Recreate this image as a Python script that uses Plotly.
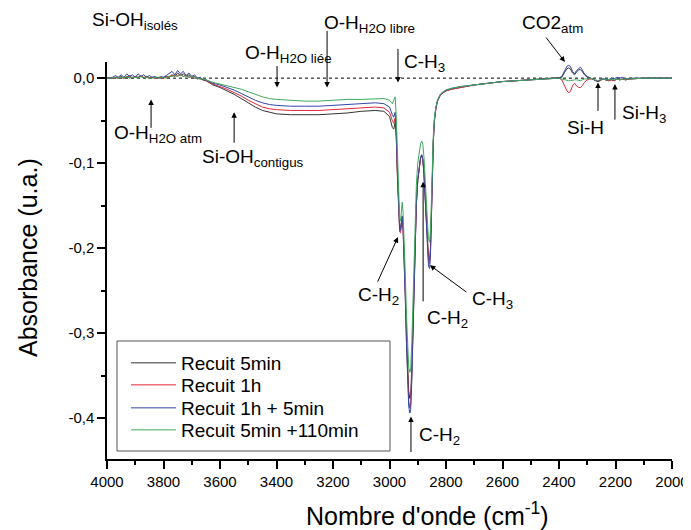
import plotly.graph_objects as go

# ---------------- data ----------------
wn_noise = [4000, 3980, 3970, 3960, 3950, 3940, 3930, 3920, 3910, 3900,
            3890, 3880, 3870, 3860, 3850, 3840, 3830, 3820, 3810, 3800,
            3790, 3780, 3770, 3760, 3750, 3740, 3730, 3720, 3710, 3700,
            3690, 3680, 3670, 3660, 3650]
k_noise = [0, 0, 0.001, 0, 0.002, 0, 0.001, 0.003, 0, 0.002,
           0.001, 0.003, 0, 0.002, 0, 0.001, 0, 0.001, 0, 0.001,
           0.002, 0.001, 0.004, 0.002, 0.006, 0.003, 0.005, 0.002, 0.004, 0.001,
           0.002, -0.001, 0.000, -0.002, -0.003]
r_noise = [0, 0, 0, 0.001, 0.001, 0, 0.002, 0.001, 0.001, 0.002,
           0, 0.002, 0.001, 0.001, 0, 0.001, 0, 0, 0.001, 0,
           0.001, 0.002, 0.003, 0.004, 0.003, 0.005, 0.002, 0.004, 0.001, 0.002,
           0.000, 0.000, -0.001, -0.002, -0.003]
b_noise = [0, 0.001, 0.003, 0.001, 0.004, 0.001, 0.005, 0.002, 0.004, 0.001,
           0.005, 0.002, 0.004, 0.001, 0.003, 0.001, 0.002, 0.000, 0.002, 0.001,
           0.003, 0.005, 0.008, 0.004, 0.009, 0.005, 0.008, 0.003, 0.006, 0.002,
           0.004, 0.000, 0.001, -0.002, -0.002]
g_noise = [0, 0, 0.001, 0, 0.001, 0, 0.002, 0, 0.001, 0.001,
           0, 0.002, 0, 0.001, 0, 0, 0.001, 0, 0, 0.001,
           0, 0.002, 0.002, 0.003, 0.002, 0.004, 0.002, 0.003, 0.001, 0.002,
           0.000, 0.000, -0.001, -0.001, -0.002]

wn_mid = [3625, 3600, 3575, 3550, 3525, 3500, 3475, 3450, 3425, 3400,
          3350, 3300, 3250, 3200, 3150, 3100, 3050, 3020, 3000, 2990,
          2985, 2980, 2976, 2972, 2968, 2964, 2961, 2958, 2955, 2952,
          2948, 2944, 2940, 2936, 2932, 2928, 2925, 2921, 2917, 2913,
          2909, 2905, 2900, 2895, 2890, 2886, 2882, 2878, 2874, 2870,
          2866, 2862, 2858, 2855, 2852, 2849, 2845, 2841, 2836, 2830,
          2820, 2810, 2800, 2780, 2750, 2700, 2650, 2600, 2550, 2500,
          2450]
k_mid = [-0.008, -0.011, -0.015, -0.019, -0.024, -0.029, -0.034, -0.038, -0.040, -0.042,
         -0.043, -0.043, -0.043, -0.042, -0.041, -0.039, -0.038, -0.039, -0.045, -0.058,
         -0.060, -0.052, -0.070, -0.115, -0.155, -0.175, -0.176, -0.168, -0.162, -0.172,
         -0.205, -0.250, -0.298, -0.340, -0.368, -0.377, -0.372, -0.340, -0.285, -0.225,
         -0.180, -0.148, -0.120, -0.103, -0.094, -0.091, -0.096, -0.112, -0.138, -0.168,
         -0.195, -0.211, -0.214, -0.200, -0.165, -0.120, -0.075, -0.050, -0.036, -0.027,
         -0.020, -0.017, -0.015, -0.013, -0.011, -0.008, -0.006, -0.004, -0.003, -0.002,
         -0.001]
r_mid = [-0.007, -0.010, -0.013, -0.017, -0.021, -0.026, -0.030, -0.034, -0.036, -0.037,
         -0.038, -0.038, -0.038, -0.037, -0.036, -0.035, -0.034, -0.035, -0.040, -0.050,
         -0.053, -0.047, -0.068, -0.115, -0.158, -0.181, -0.182, -0.174, -0.167, -0.178,
         -0.212, -0.258, -0.308, -0.350, -0.380, -0.388, -0.383, -0.350, -0.292, -0.230,
         -0.182, -0.149, -0.120, -0.103, -0.094, -0.091, -0.096, -0.113, -0.140, -0.171,
         -0.199, -0.215, -0.218, -0.203, -0.167, -0.121, -0.075, -0.050, -0.036, -0.027,
         -0.020, -0.017, -0.015, -0.013, -0.011, -0.008, -0.006, -0.004, -0.003, -0.002,
         -0.001]
b_mid = [-0.006, -0.008, -0.011, -0.014, -0.018, -0.022, -0.026, -0.029, -0.031, -0.032,
         -0.033, -0.033, -0.033, -0.032, -0.031, -0.030, -0.029, -0.030, -0.034, -0.043,
         -0.046, -0.040, -0.062, -0.110, -0.155, -0.178, -0.179, -0.170, -0.163, -0.176,
         -0.212, -0.260, -0.312, -0.357, -0.386, -0.394, -0.390, -0.355, -0.296, -0.232,
         -0.183, -0.149, -0.120, -0.102, -0.093, -0.090, -0.095, -0.113, -0.141, -0.174,
         -0.204, -0.221, -0.224, -0.208, -0.170, -0.122, -0.075, -0.049, -0.035, -0.026,
         -0.019, -0.016, -0.014, -0.012, -0.010, -0.008, -0.006, -0.004, -0.003, -0.002,
         -0.001]
g_mid = [-0.005, -0.007, -0.009, -0.011, -0.013, -0.016, -0.019, -0.022, -0.024, -0.025,
         -0.026, -0.027, -0.027, -0.026, -0.025, -0.025, -0.024, -0.024, -0.026, -0.030,
         -0.026, -0.022, -0.045, -0.090, -0.140, -0.166, -0.168, -0.156, -0.146, -0.158,
         -0.190, -0.232, -0.278, -0.318, -0.340, -0.346, -0.342, -0.310, -0.258, -0.200,
         -0.156, -0.126, -0.100, -0.085, -0.077, -0.074, -0.078, -0.093, -0.118, -0.148,
         -0.175, -0.190, -0.193, -0.180, -0.148, -0.108, -0.068, -0.047, -0.034, -0.026,
         -0.019, -0.016, -0.014, -0.012, -0.010, -0.008, -0.006, -0.004, -0.003, -0.002,
         -0.001]

wn_co2 = [2420, 2400, 2390, 2380, 2372, 2366, 2360, 2352, 2345, 2338,
          2330, 2324, 2318, 2310, 2300, 2290, 2280, 2270, 2262, 2255,
          2245, 2235, 2225, 2215, 2205, 2195, 2185, 2175, 2165, 2150,
          2100, 2050, 2000]
k_co2 = [0, 0, 0.001, 0.007, 0.011, 0.012, 0.011, 0.006, 0.004, 0.007,
         0.010, 0.010, 0.008, 0.004, 0.001, 0.000, -0.001, -0.003, -0.004, -0.003,
         -0.001, -0.002, -0.003, -0.002, -0.003, -0.001, -0.002, -0.001, -0.002, -0.001,
         0, 0, 0]
r_co2 = [0, 0, -0.002, -0.009, -0.015, -0.017, -0.016, -0.009, -0.006, -0.009,
         -0.011, -0.011, -0.009, -0.005, -0.002, -0.001, -0.001, -0.003, -0.004, -0.003,
         -0.001, -0.002, -0.003, -0.002, -0.003, -0.001, -0.002, -0.001, -0.002, -0.001,
         0, 0, 0]
b_co2 = [0, 0, 0.002, 0.009, 0.014, 0.015, 0.014, 0.008, 0.005, 0.009,
         0.012, 0.013, 0.010, 0.005, 0.002, 0.000, -0.001, -0.003, -0.004, -0.002,
         -0.001, -0.001, -0.002, 0.000, -0.001, 0.001, 0.000, 0.001, -0.001, 0.000,
         0, 0, 0]
g_co2 = [0, 0, -0.001, -0.002, -0.003, -0.003, -0.003, -0.002, -0.002, -0.002,
         -0.003, -0.003, -0.002, -0.001, -0.001, 0.000, -0.001, -0.002, -0.003, -0.002,
         -0.001, -0.002, -0.002, -0.001, -0.002, -0.001, -0.002, -0.001, -0.001, -0.001,
         0, 0, 0]

wavenumber = wn_noise + wn_mid + wn_co2
recuit_5min = k_noise + k_mid + k_co2
recuit_1h = r_noise + r_mid + r_co2
recuit_1h_5min = b_noise + b_mid + b_co2
recuit_5min_110min = g_noise + g_mid + g_co2

series_names = ["Recuit 5min", "Recuit 1h", "Recuit 1h + 5min", "Recuit 5min +110min"]
series_values = [recuit_5min, recuit_1h, recuit_1h_5min, recuit_5min_110min]
series_colors = ["#333333", "#e2283a", "#3346a8", "#3daa5c"]

x_ticks = [4000, 3800, 3600, 3400, 3200, 3000, 2800, 2600, 2400, 2200, 2000]
x_ticklabels = [str(v) for v in x_ticks]
y_ticks = [0.0, -0.1, -0.2, -0.3, -0.4]
y_ticklabels = ["0,0", "-0,1", "-0,2", "-0,3", "-0,4"]

# ---------------- figure ----------------
FONT = "Liberation Sans, Arial, Helvetica, sans-serif"
W, H = 691, 530
OFF = 8                      # the page body adds an 8px margin round the figure
L, R, T, B = 107, 672, 62, 459   # plot area in page pixels


def paper(px, py):
    return (px - L) / (R - L), (B - py) / (B - T)


fig = go.Figure()
for i, (name, vals, color) in enumerate(zip(series_names, series_values, series_colors)):
    fig.add_trace(go.Scatter(x=wavenumber, y=vals, mode="lines", name=name,
                             legend="legend" if i == 0 else "legend%d" % (i + 1),
                             line=dict(color=color, width=1)))

annotations = []


def label(text, px, py, size=19, **kw):
    x, y = paper(px, py)
    d = dict(text=text, x=x, y=y, xref="paper", yref="paper",
             xanchor="left", yanchor="middle", showarrow=False,
             font=dict(size=size, family=FONT, color="black"))
    d.update(kw)
    annotations.append(d)


def arrow(wn, val, dx, dy):
    annotations.append(dict(text="", x=wn, y=val, xref="x", yref="y",
                            ax=dx, ay=dy, axref="pixel", ayref="pixel",
                            showarrow=True, arrowhead=2, arrowsize=1.1,
                            arrowwidth=1, arrowcolor="black"))


label("Si-OH<sub>isolés</sub>", 90, 21)
arrow(3749, 0.020, -16, -28)
label("O-H<sub>H2O liée</sub>", 243, 54)
arrow(3398, -0.011, 0, -23)
label("O-H<sub>H2O libre</sub>", 322, 24)
arrow(3221, -0.011, 0, -58)
label("C-H<sub>3</sub>", 402, 63)
arrow(2970, -0.005, 0, -35)
label("CO2<sub>atm</sub>", 520, 24)
arrow(2379, 0.019, -20, -26)
label("Si-H", 565, 127)
arrow(2262, -0.005, 0, 30)
label("Si-H<sub>3</sub>", 620, 114)
arrow(2202, -0.007, 0, 37)
label("O-H<sub>H2O atm</sub>", 112, 134)
arrow(3844, -0.025, 0, 30)
label("Si-OH<sub>contigus</sub>", 200, 158)
arrow(3550, -0.040, 0, 32)
label("C-H<sub>2</sub>", 356, 296)
arrow(2970, -0.187, -21, 46)
label("C-H<sub>2</sub>", 425, 319)
arrow(2881, -0.122, 0, 121)
label("C-H<sub>3</sub>", 470, 300)
arrow(2857, -0.220, 38, 28)
label("C-H<sub>2</sub>", 417, 436)
arrow(2924, -0.398, 0, 37)

# axis titles
label("Nombre d'onde (cm<sup>-1</sup>)", 427, 514, size=25, xanchor="center")
label("Absorbance (u.a.)", 28, 258, size=25, xanchor="center", textangle=-90)

# legend: one single-entry legend per row, inside a drawn frame
legend_rows = [362, 384, 407, 429]
legends = {}
for i, row in enumerate(legend_rows):
    lx, ly = paper(126, row - 18)
    key = "legend" if i == 0 else "legend%d" % (i + 1)
    legends[key] = dict(x=lx, y=ly, xanchor="left", yanchor="top", xref="paper", yref="paper",
                        bgcolor="rgba(0,0,0,0)", borderwidth=0, itemwidth=45,
                        font=dict(size=19, family=FONT, color="black"))

bx0, by0 = paper(117, 451)
bx1, by1 = paper(390, 341)

fig.update_layout(
    width=W, height=H,
    margin=dict(l=L - OFF, r=W - R + OFF, t=T - OFF, b=H - B + OFF, autoexpand=False),
    paper_bgcolor="white", plot_bgcolor="white",
    font=dict(family=FONT, color="black"),
    showlegend=True,
    annotations=annotations,
    shapes=[
        dict(type="line", xref="x", yref="y", x0=4000, x1=2000, y0=0, y1=0,
             line=dict(color="black", width=1, dash="dot"), layer="below"),
        dict(type="rect", xref="paper", yref="paper", x0=bx0, y0=by0, x1=bx1, y1=by1,
             line=dict(color="#555555", width=1), fillcolor="rgba(0,0,0,0)"),
    ],
    xaxis=dict(range=[4000, 2000], tickmode="array", tickvals=x_ticks, ticktext=x_ticklabels,
               ticks="outside", ticklen=8, tickwidth=1.5, tickcolor="black",
               showline=True, linecolor="black", linewidth=1.5, mirror=False,
               showgrid=False, zeroline=False,
               minor=dict(dtick=100, tick0=0, ticks="outside", ticklen=4, tickwidth=1.5,
                          tickcolor="black", showgrid=False),
               tickfont=dict(size=15, family=FONT, color="black")),
    yaxis=dict(range=[-0.448, 0.019], tickmode="array", tickvals=y_ticks, ticktext=y_ticklabels,
               ticks="outside", ticklen=8, tickwidth=1.5, tickcolor="black",
               showline=True, linecolor="black", linewidth=1.5, mirror=False,
               showgrid=False, zeroline=False,
               minor=dict(dtick=0.05, tick0=0, ticks="outside", ticklen=4, tickwidth=1.5,
                          tickcolor="black", showgrid=False),
               tickfont=dict(size=15, family=FONT, color="black")),
    **legends,
)

fig.write_html("out.html")
